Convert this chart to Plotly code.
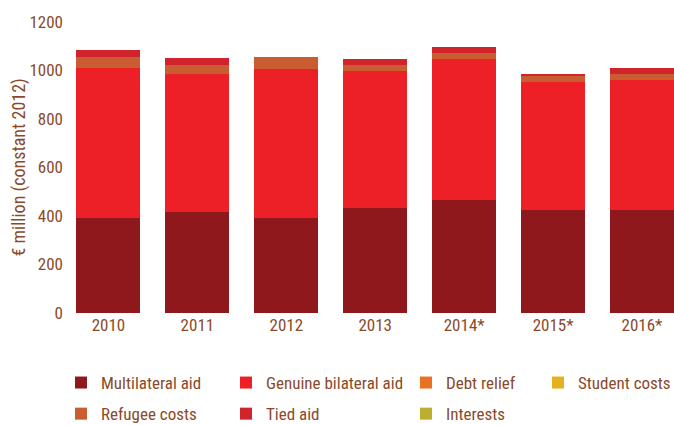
import plotly.graph_objects as go

years = ["2010", "2011", "2012", "2013", "2014*", "2015*", "2016*"]
multilateral = [392, 416, 392, 433, 466, 425, 425]
genuine_bilateral = [618, 570, 614, 565, 581, 528, 536]
debt_relief = [0, 0, 0, 0, 0, 0, 0]
student_costs = [0, 0, 0, 0, 0, 0, 0]
refugee_costs = [46, 37, 50, 25, 25, 24, 25]
tied_aid = [29, 29, 0, 24, 25, 9, 24]
interests = [0, 0, 0, 0, 0, 0, 0]
y_ticks = [0, 200, 400, 600, 800, 1000, 1200]
y_title = "€ million (constant 2012)"

FONT = "Liberation Sans Narrow, Roboto Condensed, Roboto, sans-serif"
TXT = "#8a4a2a"

series = [
    ("Multilateral aid", multilateral, "#8f181c", "legend"),
    ("Genuine bilateral aid", genuine_bilateral, "#ee2027", "legend2"),
    ("Debt relief", debt_relief, "#e87124", "legend3"),
    ("Student costs", student_costs, "#e5b11f", "legend4"),
    ("Refugee costs", refugee_costs, "#c95c31", "legend"),
    ("Tied aid", tied_aid, "#d0232b", "legend2"),
    ("Interests", interests, "#bcaf2f", "legend3"),
]

fig = go.Figure()
for i, (name, vals, col, lg) in enumerate(series):
    fig.add_trace(go.Bar(
        x=years, y=vals, name=name, marker=dict(color=col, line=dict(width=0)),
        width=0.72, legend=lg, legendgroup=name,
    ))

def leg(xpx):
    return dict(
        xref="container", yref="container", x=xpx / 674, y=1 - 365 / 425,
        xanchor="left", yanchor="top", orientation="v",
        font=dict(family=FONT, size=17, color=TXT), tracegroupgap=6,
        bgcolor="rgba(0,0,0,0)", itemclick=False,
    )

fig.update_layout(
    width=674, height=425,
    margin=dict(l=64, r=0, t=22, b=112, autoexpand=False),
    barmode="stack",
    plot_bgcolor="white", paper_bgcolor="white",
    font=dict(family=FONT, size=17, color=TXT),
    showlegend=True,
    legend=leg(61), legend2=leg(226), legend3=leg(406), legend4=leg(538),
    xaxis=dict(range=[-0.5, 6.36], showgrid=False, showline=False, ticks="",
               automargin=False,
               tickfont=dict(family=FONT, size=17, color=TXT)),
    yaxis=dict(range=[0, 1200], tickvals=y_ticks,
               showgrid=False, showline=False, zeroline=False, ticks="",
               automargin=False,
               tickfont=dict(family=FONT, size=17, color=TXT)),
    annotations=[dict(
        text=y_title, xref="paper", yref="paper", x=(18 - 64) / 610, y=0.5,
        xanchor="center", yanchor="middle", textangle=-90, showarrow=False,
        font=dict(family=FONT, size=18, color=TXT),
    )],
)

fig.write_html("out.html", config={"displayModeBar": False},
               post_script="document.body.style.margin='0';")
